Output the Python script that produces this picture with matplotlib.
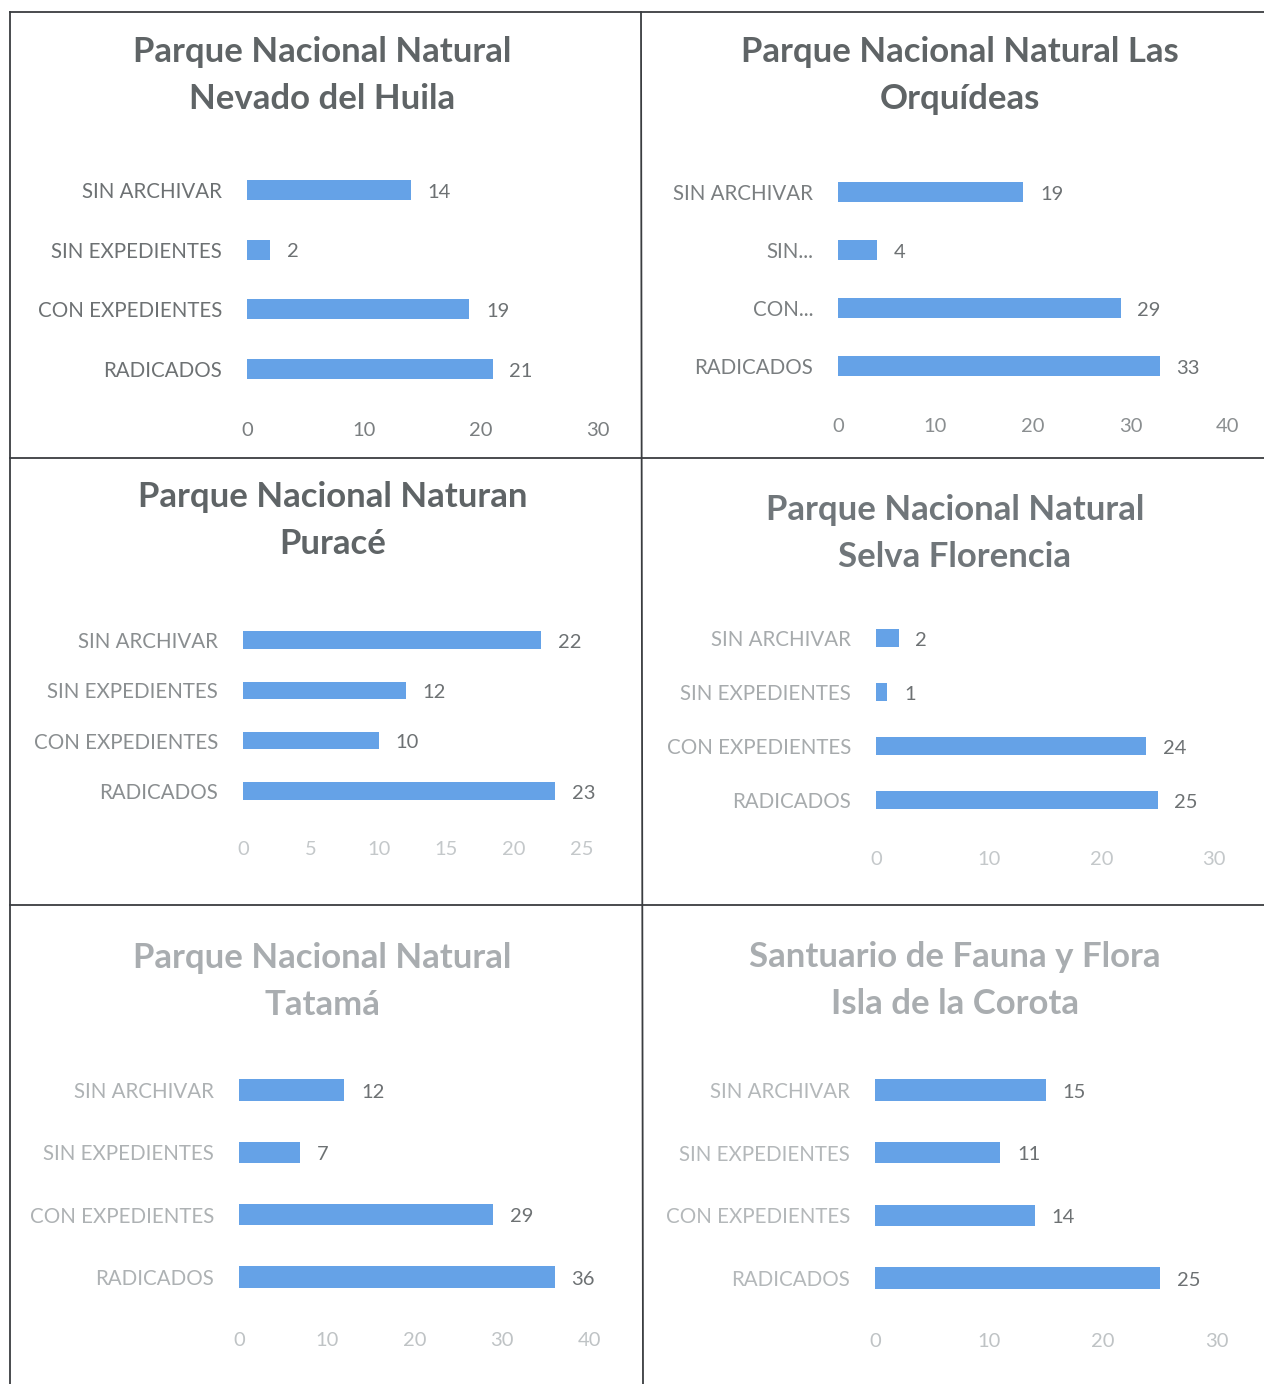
import matplotlib
matplotlib.use("Agg")
import matplotlib.pyplot as plt
from matplotlib.lines import Line2D

plt.rcParams['font.family'] = ['Lato', 'DejaVu Sans']

# Datos
categorias = ["SIN ARCHIVAR", "SIN EXPEDIENTES", "CON EXPEDIENTES", "RADICADOS"]
cat_orquideas = ["SIN ARCHIVAR", "SIN...", "CON...", "RADICADOS"]

titulos = [
    ("Parque Nacional Natural", "Nevado del Huila"),
    ("Parque Nacional Natural Las", "Orquídeas"),
    ("Parque Nacional Naturan", "Puracé"),
    ("Parque Nacional Natural", "Selva Florencia"),
    ("Parque Nacional Natural", "Tatamá"),
    ("Santuario de Fauna y Flora", "Isla de la Corota"),
]
huila = [14, 2, 19, 21]
orquideas = [19, 4, 29, 33]
purace = [22, 12, 10, 23]
florencia = [2, 1, 24, 25]
tatama = [12, 7, 29, 36]
corota = [15, 11, 14, 25]
valores = [huila, orquideas, purace, florencia, tatama, corota]
etiquetas = [categorias, cat_orquideas, categorias, categorias, categorias, categorias]
xmax = [30, 40, 25, 30, 40, 30]
paso = [10, 10, 5, 10, 10, 10]

# Geometria en pixeles (x0, x1, y barra sup, y barra inf, y ticks, x titulo, y titulo)
W, H = 1264, 1384
geo = [
    (247, 598, 190, 369, 429, 322, 52),
    (838, 1228, 192, 366, 425, 960, 52),
    (243, 582, 640, 791, 848, 333, 497),
    (876, 1214, 638, 800, 858, 955, 510),
    (239, 590, 1090, 1277, 1339, 322, 958),
    (875, 1217, 1090, 1278, 1340, 955, 957),
]
col_titulo = ['#5f6466', '#5f6466', '#5f6466', '#70767a', '#a9adb0', '#a9adb0']
col_cat = ['#6d7173', '#7a7e80', '#8a8e90', '#a7abad', '#aeb2b4', '#b4b8ba']
col_tick = ['#7a7e80', '#8a8e90', '#c4c8ca', '#c4c8ca', '#bfc3c5', '#bfc3c5']
color_barra = '#65a2e7'

fig = plt.figure(figsize=(W / 100, H / 100), dpi=100)

for i in range(6):
    x0, x1, yt, yb, ytk, xt, ytit = geo[i]
    sp = (yb - yt) / 3
    bottom_px = yb + sp / 2
    ax = fig.add_axes([x0 / W, 1 - bottom_px / H, (x1 - x0) / W, 4 * sp / H])
    pos = [3, 2, 1, 0]
    ax.barh(pos, valores[i], height=0.34, color=color_barra)
    ax.set_xlim(0, xmax[i])
    ax.set_ylim(-0.5, 3.5)
    ax.set_xticks(range(0, xmax[i] + 1, paso[i]))
    ax.set_yticks(pos)
    ax.set_yticklabels(etiquetas[i], fontsize=14.8, color=col_cat[i])
    ax.tick_params(axis='y', length=0, pad=18)
    ax.tick_params(axis='x', length=0, labelsize=14.5, labelcolor=col_tick[i],
                   pad=(ytk - bottom_px - 7) * 0.72)
    for s in ax.spines.values():
        s.set_visible(False)
    ax.patch.set_alpha(0)
    for p, v in zip(pos, valores[i]):
        ax.annotate(str(v), (v, p), xytext=(12, -1.5), textcoords='offset points',
                    va='center', ha='left', fontsize=14.5, color='#6d7173')
    fig.text(xt / W, 1 - ytit / H, titulos[i][0], ha='center', va='center',
             fontsize=25, fontweight='bold', color=col_titulo[i])
    fig.text(xt / W, 1 - (ytit + 47) / H, titulos[i][1], ha='center', va='center',
             fontsize=25, fontweight='bold', color=col_titulo[i])

# Bordes de la cuadricula
def linea(xa, ya, xb, yb):
    fig.add_artist(Line2D([xa / W, xb / W], [1 - ya / H, 1 - yb / H],
                          transform=fig.transFigure, color='#3a3d40', lw=1.3))

linea(10, 12, 1264, 12)
linea(10, 458, 1264, 458)
linea(10, 905, 1264, 905)
linea(10, 12, 10, 1384)
linea(641, 12, 643, 1384)

fig.savefig("out.png", dpi=100)
